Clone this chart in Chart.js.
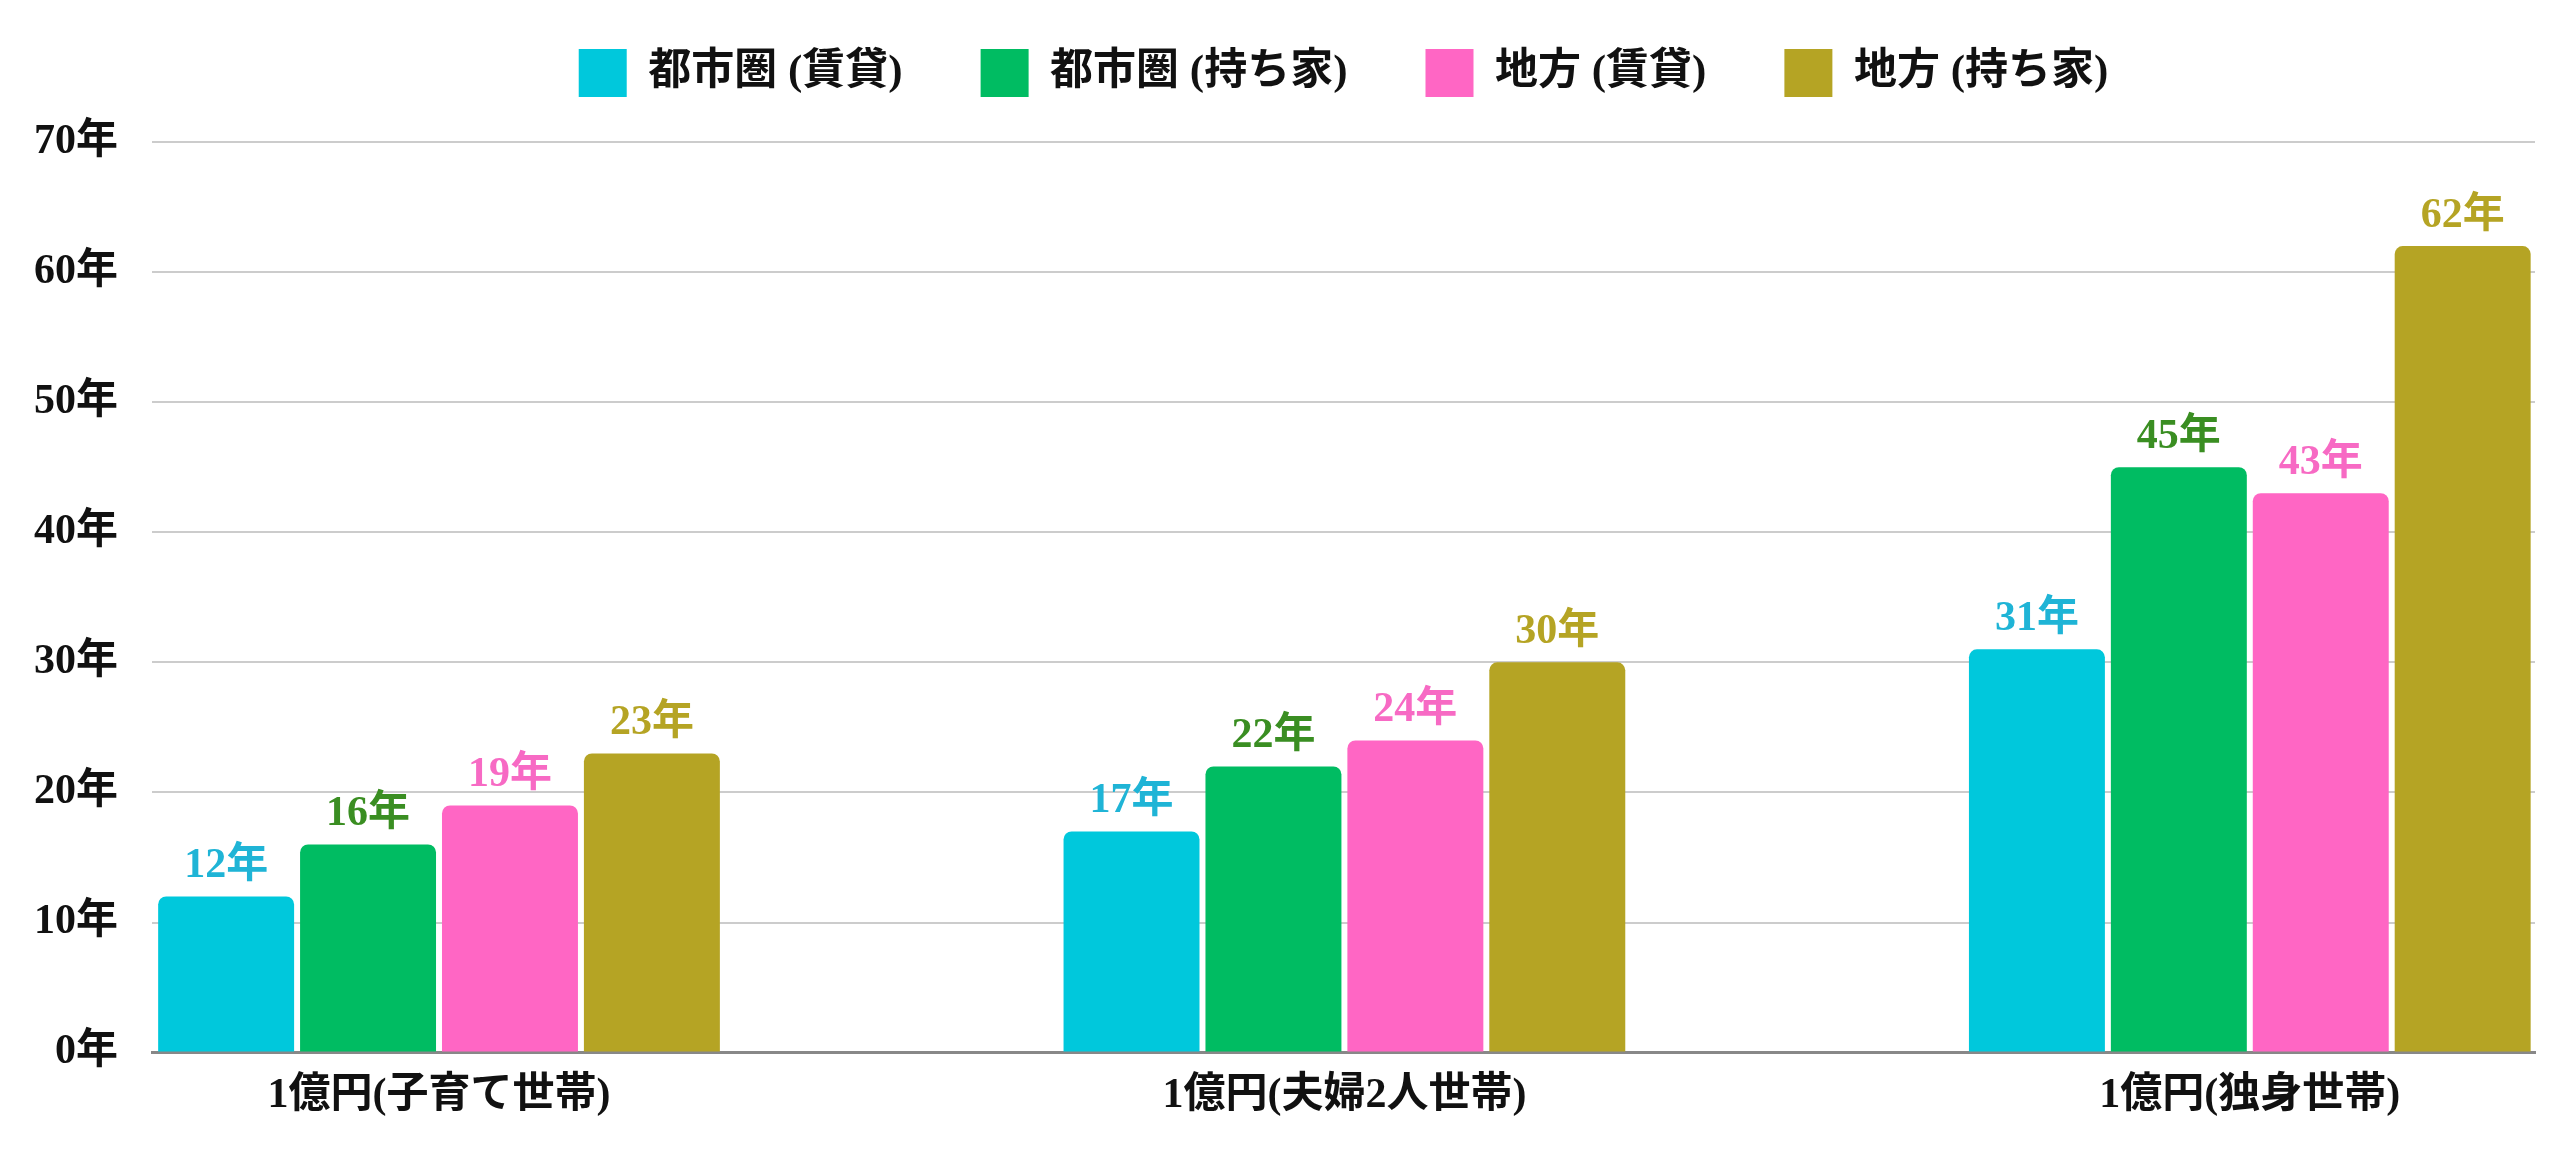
<!DOCTYPE html>
<html>
<head>
<meta charset="utf-8">
<script src="https://cdn.jsdelivr.net/npm/chart.js@4.4.1/dist/chart.umd.min.js"></script>
<style>
  html, body { margin: 0; padding: 0; background: #ffffff; }
  #wrap { width: 2560px; height: 1155px; position: relative; }
</style>
</head>
<body>
<div id="wrap"><canvas id="c" width="2560" height="1155"></canvas></div>
<script>
const categories = ['1億円(子育て世帯)', '1億円(夫婦2人世帯)', '1億円(独身世帯)'];
const seriesNames = ['都市圏 (賃貸)', '都市圏 (持ち家)', '地方 (賃貸)', '地方 (持ち家)'];
const urbanRent = [12, 17, 31];
const urbanOwn = [16, 22, 45];
const ruralRent = [19, 24, 43];
const ruralOwn = [23, 30, 62];
const yTicks = [0, 10, 20, 30, 40, 50, 60, 70];
const unit = '年';

const barColors = ['#00c8dc', '#00bc62', '#ff66c4', '#b5a424'];
const labelColors = ['#1fb4d6', '#3a8e22', '#f76ac4', '#b5a424'];
const FONT = "'Liberation Serif', 'Noto Sans CJK JP', serif";

const seriesValues = [urbanRent, urbanOwn, ruralRent, ruralOwn];
const datasets = seriesValues.map((vals, i) => ({
  label: seriesNames[i],
  data: vals.map((v, k) => ({ x: k, y: v })),
  backgroundColor: barColors[i],
  borderWidth: 0,
  borderRadius: { topLeft: 8, topRight: 8, bottomLeft: 0, bottomRight: 0 },
  borderSkipped: 'start',
  categoryPercentage: 0.627,
  barPercentage: 0.958
}));

const valueLabels = {
  id: 'valueLabels',
  afterDatasetsDraw(chart) {
    const ctx = chart.ctx;
    ctx.save();
    ctx.font = 'bold 42px ' + FONT;
    ctx.textAlign = 'center';
    ctx.textBaseline = 'alphabetic';
    chart.data.datasets.forEach((ds, i) => {
      const meta = chart.getDatasetMeta(i);
      ctx.fillStyle = labelColors[i];
      meta.data.forEach((el, k) => {
        ctx.fillText(ds.data[k].y + unit, el.x, el.y - 19);
      });
    });
    ctx.restore();
  }
};

// empty layout box that keeps a gap between the legend and the plot area
const legendGap = {
  id: 'legendGap',
  beforeInit(chart) {
    Chart.layouts.addBox(chart, {
      position: 'top', weight: 500, fullSize: false,
      options: {},
      left: 0, top: 0, right: 0, bottom: 0, width: 0, height: 0,
      isHorizontal() { return true; },
      update(maxWidth) { this.width = maxWidth; this.height = 35; },
      getPadding() { return { left: 0, right: 0, top: 0, bottom: 0 }; },
      draw() {}
    });
  }
};

new Chart(document.getElementById('c'), {
  type: 'bar',
  data: { datasets },
  plugins: [valueLabels, legendGap],
  options: {
    responsive: false,
    animation: false,
    devicePixelRatio: 1,
    layout: { padding: { left: 20, right: 25, top: -29, bottom: 16 } },
    plugins: {
      legend: {
        position: 'top',
        fullSize: false,
        labels: {
          boxWidth: 48,
          boxHeight: 48,
          padding: 78,
          color: '#111111',
          font: { family: FONT, size: 43, weight: 'bold' }
        }
      },
      tooltip: { enabled: false }
    },
    scales: {
      x: {
        type: 'linear',
        min: -0.317,
        max: 2.315,
        offset: false,
        afterBuildTicks: s => { s.ticks = categories.map((c, k) => ({ value: k })); },
        ticks: {
          autoSkip: false,
          maxRotation: 0,
          padding: 18,
          color: '#111111',
          font: { family: FONT, size: 42, weight: 'bold' },
          callback: v => categories[v]
        },
        grid: { display: false, drawTicks: false },
        border: { display: true, color: '#888888', width: 3 }
      },
      y: {
        min: 0,
        max: 70,
        afterBuildTicks: s => { s.ticks = yTicks.map(v => ({ value: v })); },
        afterFit: s => { s.width = 132; },
        ticks: {
          padding: 34,
          color: '#111111',
          font: { family: FONT, size: 42, weight: 'bold' },
          callback: v => v + unit
        },
        grid: { color: '#cccccc', lineWidth: 2, drawTicks: false },
        border: { display: false }
      }
    }
  }
});
</script>
</body>
</html>
